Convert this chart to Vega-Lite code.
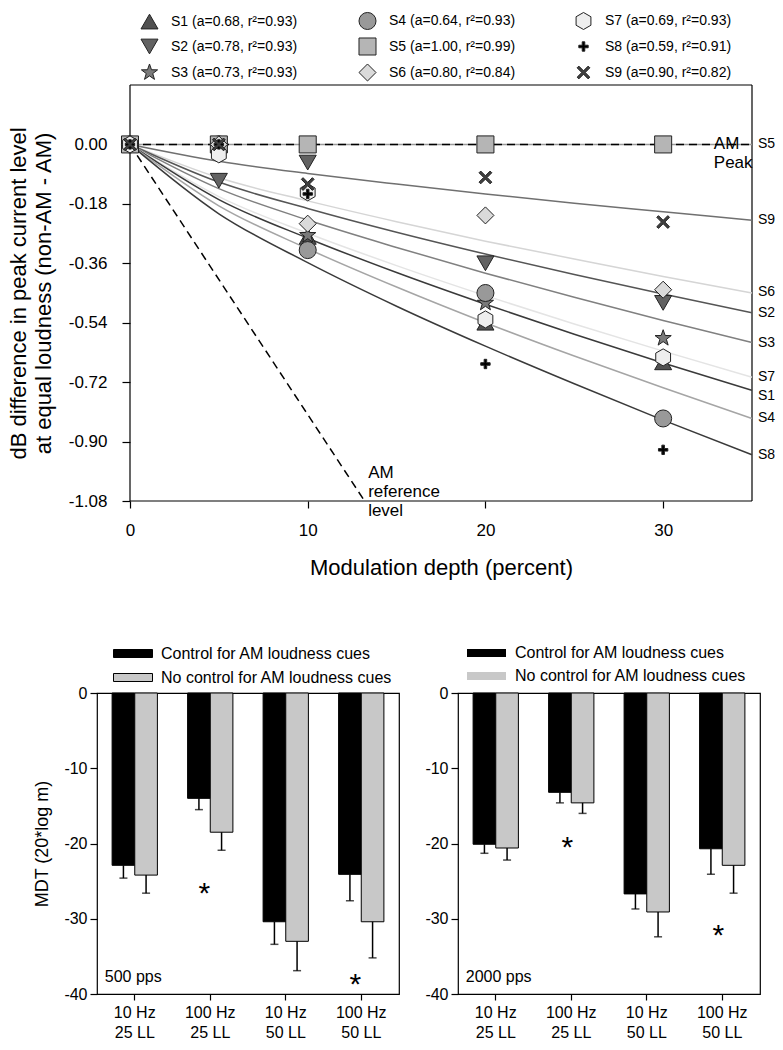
{
  "$schema": "https://vega.github.io/schema/vega-lite/v6.json",
  "padding": {"left": 7, "top": 11, "right": 0, "bottom": 0},
  "spacing": 64,
  "config": {
    "font": "Liberation Sans",
    "view": {"stroke": "black", "strokeWidth": 1.2},
    "axis": {"grid": false, "domain": false, "tickColor": "black", "tickWidth": 1.2, "labelColor": "black", "titleColor": "black", "titleFontWeight": "normal", "labelFont": "Liberation Sans", "titleFont": "Liberation Sans"},
    "legend": {"labelFont": "Liberation Sans", "labelColor": "black"},
    "text": {"font": "Liberation Sans", "color": "black"}
  },
  "resolve": {"scale": {"fill": "independent", "shape": "independent", "stroke": "independent", "x": "independent", "y": "independent"}, "legend": {"fill": "independent", "shape": "independent"}},
  "datasets": {
    "frame": [
      {"x": 0, "x2": 0, "y": -1.08, "y2": 0.18},
      {"x": 35, "x2": 35, "y": -1.08, "y2": 0.18},
      {"x": 0, "x2": 35, "y": 0.18, "y2": 0.18},
      {"x": 0, "x2": 35, "y": -1.08, "y2": -1.08}
    ],
    "curves": [
      {"c": "S5", "x": 0, "y": 0}, {"c": "S5", "x": 35, "y": 0},
      {"c": "S9", "x": 0, "y": 0}, {"c": "S9", "x": 5, "y": -0.051}, {"c": "S9", "x": 10, "y": -0.088}, {"c": "S9", "x": 15, "y": -0.12}, {"c": "S9", "x": 20, "y": -0.15}, {"c": "S9", "x": 25, "y": -0.178}, {"c": "S9", "x": 30, "y": -0.204}, {"c": "S9", "x": 35, "y": -0.23},
      {"c": "S6", "x": 0, "y": 0}, {"c": "S6", "x": 5, "y": -0.101}, {"c": "S6", "x": 10, "y": -0.171}, {"c": "S6", "x": 15, "y": -0.234}, {"c": "S6", "x": 20, "y": -0.293}, {"c": "S6", "x": 25, "y": -0.347}, {"c": "S6", "x": 30, "y": -0.4}, {"c": "S6", "x": 35, "y": -0.45},
      {"c": "S2", "x": 0, "y": 0}, {"c": "S2", "x": 5, "y": -0.114}, {"c": "S2", "x": 10, "y": -0.194}, {"c": "S2", "x": 15, "y": -0.266}, {"c": "S2", "x": 20, "y": -0.332}, {"c": "S2", "x": 25, "y": -0.394}, {"c": "S2", "x": 30, "y": -0.453}, {"c": "S2", "x": 35, "y": -0.51},
      {"c": "S3", "x": 0, "y": 0}, {"c": "S3", "x": 5, "y": -0.134}, {"c": "S3", "x": 10, "y": -0.229}, {"c": "S3", "x": 15, "y": -0.312}, {"c": "S3", "x": 20, "y": -0.39}, {"c": "S3", "x": 25, "y": -0.463}, {"c": "S3", "x": 30, "y": -0.533}, {"c": "S3", "x": 35, "y": -0.6},
      {"c": "S7", "x": 0, "y": 0}, {"c": "S7", "x": 5, "y": -0.158}, {"c": "S7", "x": 10, "y": -0.269}, {"c": "S7", "x": 15, "y": -0.367}, {"c": "S7", "x": 20, "y": -0.458}, {"c": "S7", "x": 25, "y": -0.544}, {"c": "S7", "x": 30, "y": -0.626}, {"c": "S7", "x": 35, "y": -0.705},
      {"c": "S1", "x": 0, "y": 0}, {"c": "S1", "x": 5, "y": -0.167}, {"c": "S1", "x": 10, "y": -0.284}, {"c": "S1", "x": 15, "y": -0.388}, {"c": "S1", "x": 20, "y": -0.484}, {"c": "S1", "x": 25, "y": -0.575}, {"c": "S1", "x": 30, "y": -0.662}, {"c": "S1", "x": 35, "y": -0.745},
      {"c": "S4", "x": 0, "y": 0}, {"c": "S4", "x": 5, "y": -0.186}, {"c": "S4", "x": 10, "y": -0.316}, {"c": "S4", "x": 15, "y": -0.432}, {"c": "S4", "x": 20, "y": -0.54}, {"c": "S4", "x": 25, "y": -0.641}, {"c": "S4", "x": 30, "y": -0.737}, {"c": "S4", "x": 35, "y": -0.83},
      {"c": "S8", "x": 0, "y": 0}, {"c": "S8", "x": 5, "y": -0.21}, {"c": "S8", "x": 10, "y": -0.358}, {"c": "S8", "x": 15, "y": -0.49}, {"c": "S8", "x": 20, "y": -0.611}, {"c": "S8", "x": 25, "y": -0.725}, {"c": "S8", "x": 30, "y": -0.835}, {"c": "S8", "x": 35, "y": -0.94}
    ],
    "refs": [
      {"r": "peak", "x": 0, "y": 0}, {"r": "peak", "x": 35, "y": 0},
      {"r": "ref", "x": 0, "y": 0}, {"r": "ref", "x": 13.2, "y": -1.08}
    ],
    "points": [
      {"s": "S1", "x": 0, "y": 0}, {"s": "S1", "x": 5, "y": 0}, {"s": "S1", "x": 10, "y": -0.28}, {"s": "S1", "x": 20, "y": -0.54}, {"s": "S1", "x": 30, "y": -0.66},
      {"s": "S2", "x": 0, "y": 0}, {"s": "S2", "x": 5, "y": -0.11}, {"s": "S2", "x": 10, "y": -0.055}, {"s": "S2", "x": 20, "y": -0.36}, {"s": "S2", "x": 30, "y": -0.48},
      {"s": "S3", "x": 0, "y": 0}, {"s": "S3", "x": 5, "y": 0}, {"s": "S3", "x": 10, "y": -0.275}, {"s": "S3", "x": 20, "y": -0.48}, {"s": "S3", "x": 30, "y": -0.587},
      {"s": "S4", "x": 0, "y": 0}, {"s": "S4", "x": 5, "y": 0}, {"s": "S4", "x": 10, "y": -0.32}, {"s": "S4", "x": 20, "y": -0.45}, {"s": "S4", "x": 30, "y": -0.83},
      {"s": "S5", "x": 0, "y": 0}, {"s": "S5", "x": 5, "y": 0}, {"s": "S5", "x": 10, "y": 0}, {"s": "S5", "x": 20, "y": 0}, {"s": "S5", "x": 30, "y": 0},
      {"s": "S6", "x": 0, "y": 0}, {"s": "S6", "x": 5, "y": 0}, {"s": "S6", "x": 10, "y": -0.24}, {"s": "S6", "x": 20, "y": -0.215}, {"s": "S6", "x": 30, "y": -0.44},
      {"s": "S7", "x": 0, "y": 0}, {"s": "S7", "x": 5, "y": -0.03}, {"s": "S7", "x": 10, "y": -0.145}, {"s": "S7", "x": 20, "y": -0.53}, {"s": "S7", "x": 30, "y": -0.645},
      {"s": "S8", "x": 0, "y": 0}, {"s": "S8", "x": 5, "y": 0}, {"s": "S8", "x": 10, "y": -0.15}, {"s": "S8", "x": 20, "y": -0.665}, {"s": "S8", "x": 30, "y": -0.925},
      {"s": "S9", "x": 0, "y": 0}, {"s": "S9", "x": 5, "y": 0}, {"s": "S9", "x": 10, "y": -0.12}, {"s": "S9", "x": 20, "y": -0.1}, {"s": "S9", "x": 30, "y": -0.235}
    ],
    "endlabels": [
      {"lab": "S5", "x": 35, "y": 0}, {"lab": "S9", "x": 35, "y": -0.23}, {"lab": "S6", "x": 35, "y": -0.447}, {"lab": "S2", "x": 35, "y": -0.51},
      {"lab": "S3", "x": 35, "y": -0.6}, {"lab": "S7", "x": 35, "y": -0.705}, {"lab": "S1", "x": 35, "y": -0.762}, {"lab": "S4", "x": 35, "y": -0.83}, {"lab": "S8", "x": 35, "y": -0.94}
    ],
    "notes": [
      {"t": "AM\nPeak", "x": 32.85, "y": 0},
      {"t": "AM\nreference\nlevel", "x": 13.4, "y": -0.994}
    ],
    "bars500": [
      {"cat": "10 Hz|25 LL", "cond": "Control for AM loudness cues", "v": -22.9, "err": -24.6},
      {"cat": "10 Hz|25 LL", "cond": "No control for AM loudness cues", "v": -24.2, "err": -26.6},
      {"cat": "100 Hz|25 LL", "cond": "Control for AM loudness cues", "v": -14.0, "err": -15.5},
      {"cat": "100 Hz|25 LL", "cond": "No control for AM loudness cues", "v": -18.5, "err": -20.9},
      {"cat": "10 Hz|50 LL", "cond": "Control for AM loudness cues", "v": -30.4, "err": -33.4},
      {"cat": "10 Hz|50 LL", "cond": "No control for AM loudness cues", "v": -33.0, "err": -36.9},
      {"cat": "100 Hz|50 LL", "cond": "Control for AM loudness cues", "v": -24.1, "err": -27.6},
      {"cat": "100 Hz|50 LL", "cond": "No control for AM loudness cues", "v": -30.4, "err": -35.2}
    ],
    "bars2000": [
      {"cat": "10 Hz|25 LL", "cond": "Control for AM loudness cues", "v": -20.1, "err": -21.3},
      {"cat": "10 Hz|25 LL", "cond": "No control for AM loudness cues", "v": -20.6, "err": -22.2},
      {"cat": "100 Hz|25 LL", "cond": "Control for AM loudness cues", "v": -13.2, "err": -14.6},
      {"cat": "100 Hz|25 LL", "cond": "No control for AM loudness cues", "v": -14.6, "err": -16.0},
      {"cat": "10 Hz|50 LL", "cond": "Control for AM loudness cues", "v": -26.7, "err": -28.7},
      {"cat": "10 Hz|50 LL", "cond": "No control for AM loudness cues", "v": -29.1, "err": -32.4},
      {"cat": "100 Hz|50 LL", "cond": "Control for AM loudness cues", "v": -20.7, "err": -24.1},
      {"cat": "100 Hz|50 LL", "cond": "No control for AM loudness cues", "v": -22.9, "err": -26.6}
    ],
    "stars500": [{"cat": "100 Hz|25 LL", "y": -27.9}, {"cat": "100 Hz|50 LL", "y": -40.0}],
    "stars2000": [{"cat": "100 Hz|25 LL", "y": -21.8}, {"cat": "100 Hz|50 LL", "y": -33.5}],
    "lab500": [{"cat": "10 Hz|25 LL", "y": -38.4, "t": "500 pps"}],
    "lab2000": [{"cat": "10 Hz|25 LL", "y": -38.4, "t": "2000 pps"}]
  },
  "vconcat": [
    {
      "width": 655,
      "height": 416,
      "view": {"stroke": null},
      "layer": [
        {
          "data": {"name": "frame"},
          "mark": {"type": "rule", "color": "black", "strokeWidth": 1.2},
          "encoding": {
            "x": {"field": "x", "type": "quantitative", "scale": {"domain": [-1.857, 35], "nice": false, "zero": false},
              "axis": {"values": [0, 10, 20, 30], "labelFontSize": 17, "tickSize": 7, "labelPadding": 14, "title": "Modulation depth (percent)", "titleFontSize": 22, "titleX": 344, "titleY": 56}},
            "x2": {"field": "x2"},
            "y": {"field": "y", "type": "quantitative", "scale": {"domain": [-1.08, 0.18], "nice": false, "zero": false},
              "axis": {"values": [0, -0.18, -0.36, -0.54, -0.72, -0.9, -1.08], "offset": -33, "labelExpr": "replace(format(datum.value, '.2f'), '\u2212', '-')", "labelFontSize": 17, "tickSize": 8, "labelPadding": 15, "title": ["dB difference in peak current level", "at equal loudness (non-AM - AM)"], "titleFontSize": 22, "titleLineHeight": 25, "titlePadding": 13}},
            "y2": {"field": "y2"}
          }
        },
        {
          "data": {"name": "curves"},
          "mark": {"type": "line", "strokeWidth": 1.5, "interpolate": "monotone"},
          "encoding": {
            "x": {"field": "x", "type": "quantitative"},
            "y": {"field": "y", "type": "quantitative"},
            "stroke": {"field": "c", "type": "nominal",
              "scale": {"domain": ["S9", "S8", "S7", "S6", "S5", "S4", "S3", "S2", "S1"], "range": ["#707070", "#3a3a3a", "#e4e4e4", "#d5d5d5", "#9a9a9a", "#a5a5a5", "#808080", "#555555", "#3a3a3a"]},
              "legend": null}
          }
        },
        {
          "data": {"name": "refs"},
          "mark": {"type": "line", "strokeDash": [8, 5], "color": "black", "strokeWidth": 1.5},
          "encoding": {
            "x": {"field": "x", "type": "quantitative"},
            "y": {"field": "y", "type": "quantitative"},
            "detail": {"field": "r", "type": "nominal"}
          }
        },
        {
          "data": {"name": "points"},
          "mark": {"type": "point", "filled": true, "opacity": 1, "stroke": "#222222", "strokeWidth": 1, "size": 290},
          "encoding": {
            "x": {"field": "x", "type": "quantitative"},
            "y": {"field": "y", "type": "quantitative"},
            "shape": {"field": "s", "type": "nominal",
              "scale": {"domain": ["S1", "S2", "S3", "S4", "S5", "S6", "S7", "S8", "S9"],
                "range": ["triangle-up", "triangle-down", "M0,-1L0.235,-0.324L0.951,-0.309L0.38,0.124L0.588,0.809L0,0.4L-0.588,0.809L-0.38,0.124L-0.951,-0.309L-0.235,-0.324Z", "circle", "square", "diamond", "M0,-1L0.87,-0.5L0.87,0.5L0,1L-0.87,0.5L-0.87,-0.5Z", "M-0.15,-0.55L0.15,-0.55L0.15,-0.15L0.55,-0.15L0.55,0.15L0.15,0.15L0.15,0.55L-0.15,0.55L-0.15,0.15L-0.55,0.15L-0.55,-0.15L-0.15,-0.15Z", "M-0.75,-0.55L-0.55,-0.75L0,-0.2L0.55,-0.75L0.75,-0.55L0.2,0L0.75,0.55L0.55,0.75L0,0.2L-0.55,0.75L-0.75,0.55L-0.2,0Z"]},
              "legend": {"title": null, "orient": "none", "legendX": 43, "legendY": -74, "columns": 3, "columnPadding": 58, "rowPadding": 3, "padding": 0, "symbolSize": 290, "symbolStrokeColor": "#222222", "symbolStrokeWidth": 1, "symbolOpacity": 1, "labelFontSize": 14, "labelOffset": 12, "labelLimit": 400,
                "values": ["S1", "S2", "S3", "S4", "S5", "S6", "S7", "S8", "S9"],
                "encode": {"symbols": {"update": {"stroke": {"value": "#222222"}, "strokeWidth": {"value": 1}, "opacity": {"value": 1}}}},
                "labelExpr": "{'S1':'S1 (a=0.68, r\u00b2=0.93)','S2':'S2 (a=0.78, r\u00b2=0.93)','S3':'S3 (a=0.73, r\u00b2=0.93)','S4':'S4 (a=0.64, r\u00b2=0.93)','S5':'S5 (a=1.00, r\u00b2=0.99)','S6':'S6 (a=0.80, r\u00b2=0.84)','S7':'S7 (a=0.69, r\u00b2=0.93)','S8':'S8 (a=0.59, r\u00b2=0.91)','S9':'S9 (a=0.90, r\u00b2=0.82)'}[datum.label]"}},
            "fill": {"field": "s", "type": "nominal",
              "scale": {"domain": ["S1", "S2", "S3", "S4", "S5", "S6", "S7", "S8", "S9"], "range": ["#505050", "#626262", "#7a7a7a", "#999999", "#b5b5b5", "#dadada", "#eeeeee", "#000000", "#404040"]},
              "legend": {"title": null, "orient": "none", "legendX": 43, "legendY": -74, "columns": 3, "columnPadding": 58, "rowPadding": 3, "padding": 0, "symbolSize": 290, "symbolStrokeColor": "#222222", "symbolStrokeWidth": 1, "symbolOpacity": 1, "labelFontSize": 14, "labelOffset": 12, "labelLimit": 400,
                "values": ["S1", "S2", "S3", "S4", "S5", "S6", "S7", "S8", "S9"],
                "encode": {"symbols": {"update": {"stroke": {"value": "#222222"}, "strokeWidth": {"value": 1}, "opacity": {"value": 1}}}},
                "labelExpr": "{'S1':'S1 (a=0.68, r\u00b2=0.93)','S2':'S2 (a=0.78, r\u00b2=0.93)','S3':'S3 (a=0.73, r\u00b2=0.93)','S4':'S4 (a=0.64, r\u00b2=0.93)','S5':'S5 (a=1.00, r\u00b2=0.99)','S6':'S6 (a=0.80, r\u00b2=0.84)','S7':'S7 (a=0.69, r\u00b2=0.93)','S8':'S8 (a=0.59, r\u00b2=0.91)','S9':'S9 (a=0.90, r\u00b2=0.82)'}[datum.label]"}}
          }
        },
        {
          "data": {"name": "endlabels"},
          "mark": {"type": "text", "align": "left", "baseline": "middle", "dx": 6, "fontSize": 14},
          "encoding": {
            "x": {"field": "x", "type": "quantitative"},
            "y": {"field": "y", "type": "quantitative"},
            "text": {"field": "lab"}
          }
        },
        {
          "data": {"name": "notes"},
          "mark": {"type": "text", "align": "left", "baseline": "middle", "fontSize": 17, "lineBreak": "\n", "lineHeight": 19},
          "encoding": {
            "x": {"field": "x", "type": "quantitative"},
            "y": {"field": "y", "type": "quantitative"},
            "text": {"field": "t"}
          }
        }
      ]
    },
    {
      "spacing": 24,
      "resolve": {"scale": {"fill": "independent", "y": "independent", "x": "independent"}, "legend": {"fill": "independent"}},
      "hconcat": [
        {
          "width": 302,
          "height": 301,
          "encoding": {
            "x": {"field": "cat", "type": "nominal", "sort": null, "scale": {"paddingInner": 0.4, "paddingOuter": 0.2},
              "axis": {"title": null, "labelAngle": 0, "labelExpr": "split(datum.label, '|')", "labelFontSize": 16, "labelLineHeight": 20, "tickSize": 6, "labelPadding": 4}}
          },
          "layer": [
            {
              "data": {"name": "bars500"},
              "mark": {"type": "bar", "stroke": "black", "strokeWidth": 1},
              "encoding": {
                "xOffset": {"field": "cond", "type": "nominal", "sort": null},
                "y": {"field": "v", "type": "quantitative", "scale": {"domain": [-40, 0], "nice": false},
                  "axis": {"values": [0, -10, -20, -30, -40], "labelExpr": "'' + datum.value", "labelFontSize": 16, "tickSize": 7, "labelPadding": 3, "title": "MDT (20*log m)", "titleFontSize": 18, "titlePadding": 12}},
                "fill": {"field": "cond", "type": "nominal",
                  "scale": {"domain": ["Control for AM loudness cues", "No control for AM loudness cues"], "range": ["#000000", "#c8c8c8"]},
                  "legend": {"title": null, "orient": "none", "legendX": 25.5, "legendY": -50, "padding": 0, "rowPadding": 5, "symbolType": "M-1.95,-0.4L1.95,-0.4L1.95,0.4L-1.95,0.4Z", "symbolSize": 400, "symbolStrokeColor": "black", "symbolStrokeWidth": 1, "symbolOpacity": 1, "labelFontSize": 16, "labelOffset": 17.5, "labelLimit": 400}}
              }
            },
            {
              "data": {"name": "bars500"},
              "mark": {"type": "rule", "color": "black", "strokeWidth": 1.5},
              "encoding": {
                "xOffset": {"field": "cond", "type": "nominal", "sort": null},
                "y": {"field": "v", "type": "quantitative"},
                "y2": {"field": "err"}
              }
            },
            {
              "data": {"name": "bars500"},
              "mark": {"type": "tick", "orient": "horizontal", "color": "black", "size": 8, "thickness": 1.5},
              "encoding": {
                "xOffset": {"field": "cond", "type": "nominal", "sort": null},
                "y": {"field": "err", "type": "quantitative"}
              }
            },
            {
              "data": {"name": "stars500"},
              "mark": {"type": "text", "text": "*", "fontSize": 30, "dx": -6, "baseline": "alphabetic"},
              "encoding": {"y": {"field": "y", "type": "quantitative"}}
            },
            {
              "data": {"name": "lab500"},
              "mark": {"type": "text", "fontSize": 16, "dx": -30, "align": "left", "baseline": "alphabetic"},
              "encoding": {"y": {"field": "y", "type": "quantitative"}, "text": {"field": "t"}}
            }
          ]
        },
        {
          "width": 302,
          "height": 301,
          "encoding": {
            "x": {"field": "cat", "type": "nominal", "sort": null, "scale": {"paddingInner": 0.4, "paddingOuter": 0.2},
              "axis": {"title": null, "labelAngle": 0, "labelExpr": "split(datum.label, '|')", "labelFontSize": 16, "labelLineHeight": 20, "tickSize": 6, "labelPadding": 4}}
          },
          "layer": [
            {
              "data": {"name": "bars2000"},
              "mark": {"type": "bar", "stroke": "black", "strokeWidth": 1},
              "encoding": {
                "xOffset": {"field": "cond", "type": "nominal", "sort": null},
                "y": {"field": "v", "type": "quantitative", "scale": {"domain": [-40, 0], "nice": false},
                  "axis": {"values": [0, -10, -20, -30, -40], "labelExpr": "'' + datum.value", "labelFontSize": 16, "tickSize": 7, "labelPadding": 3, "title": null}},
                "fill": {"field": "cond", "type": "nominal",
                  "scale": {"domain": ["Control for AM loudness cues", "No control for AM loudness cues"], "range": ["#000000", "#c8c8c8"]},
                  "legend": {"title": null, "orient": "none", "legendX": 18.5, "legendY": -50, "padding": 0, "rowPadding": 5, "symbolType": "M-1.95,-0.4L1.95,-0.4L1.95,0.4L-1.95,0.4Z", "symbolSize": 400, "symbolStrokeWidth": 0, "symbolOpacity": 1, "labelFontSize": 16, "labelOffset": 18.5, "labelLimit": 400}}
              }
            },
            {
              "data": {"name": "bars2000"},
              "mark": {"type": "rule", "color": "black", "strokeWidth": 1.5},
              "encoding": {
                "xOffset": {"field": "cond", "type": "nominal", "sort": null},
                "y": {"field": "v", "type": "quantitative"},
                "y2": {"field": "err"}
              }
            },
            {
              "data": {"name": "bars2000"},
              "mark": {"type": "tick", "orient": "horizontal", "color": "black", "size": 8, "thickness": 1.5},
              "encoding": {
                "xOffset": {"field": "cond", "type": "nominal", "sort": null},
                "y": {"field": "err", "type": "quantitative"}
              }
            },
            {
              "data": {"name": "stars2000"},
              "mark": {"type": "text", "text": "*", "fontSize": 30, "dx": -4, "baseline": "alphabetic"},
              "encoding": {"y": {"field": "y", "type": "quantitative"}}
            },
            {
              "data": {"name": "lab2000"},
              "mark": {"type": "text", "fontSize": 16, "dx": -30, "align": "left", "baseline": "alphabetic"},
              "encoding": {"y": {"field": "y", "type": "quantitative"}, "text": {"field": "t"}}
            }
          ]
        }
      ]
    }
  ]
}
